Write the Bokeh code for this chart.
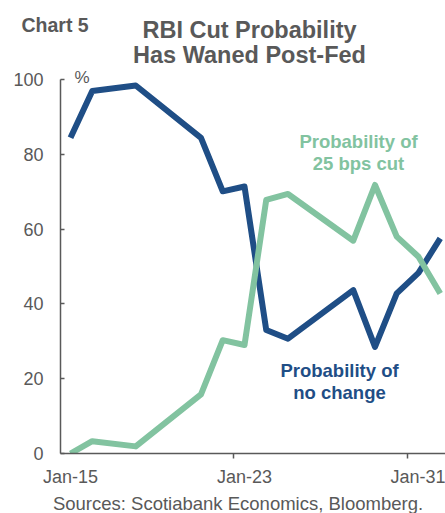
import pandas as pd
from bokeh.plotting import figure
from bokeh.layouts import column
from bokeh.models import Range1d, FixedTicker, Label
from bokeh.embed import file_html
from bokeh.resources import INLINE

# ---- data ----
dates = ["2025-01-15", "2025-01-16", "2025-01-18", "2025-01-21", "2025-01-22",
         "2025-01-23", "2025-01-24", "2025-01-25", "2025-01-28", "2025-01-29",
         "2025-01-30", "2025-01-31", "2025-02-01"]
no_change = [84.4, 96.9, 98.4, 84.4, 70.1, 71.4, 33.0, 30.7, 43.7, 28.5, 42.8, 48.3, 57.5]
cut_25bps = [0.0, 3.3, 1.9, 15.8, 30.3, 29.0, 67.8, 69.4, 56.9, 71.8, 58.0, 52.6, 42.8]
x_tick_dates = ["2025-01-15", "2025-01-23", "2025-01-31"]
x_tick_labels = ["Jan-15", "Jan-23", "Jan-31"]
y_ticks = [0, 20, 40, 60, 80, 100]

d0 = pd.Timestamp(dates[0])
x = [(pd.Timestamp(d) - d0).days for d in dates]
xt = [(pd.Timestamp(d) - d0).days for d in x_tick_dates]

BLUE = "#1F4E86"
GREEN = "#82C3A0"
GREY = "#595959"
FONT = "Liberation Sans"

W, H = 445, 513
TOP_H = 69          # title strip height
BOT_H = 23          # source strip height
FL, FR, FB = 60, 445, 453
Y0_PX, Y100_PX = 453.0, 79.0
PX_PER_UNIT = (Y0_PX - Y100_PX) / 100.0
X0_PX, DAY_PX = 70.0, 21.75
x_start = (FL - X0_PX) / DAY_PX
x_end = (FR - X0_PX) / DAY_PX
y_end = (Y0_PX - TOP_H) / PX_PER_UNIT
SHIFT = 0.36  # baseline correction (fraction of font size)


def strip(h, top_px):
    f = figure(width=W, height=h, output_backend="svg", toolbar_location=None,
               title=None,
               x_range=Range1d(0, W), y_range=Range1d(top_px + h, top_px),
               x_axis_type=None, y_axis_type=None,
               min_border=0, min_border_left=0, min_border_right=0,
               min_border_top=0, min_border_bottom=0)
    f.frame_align = False
    f.outline_line_color = None
    f.xgrid.visible = False
    f.ygrid.visible = False
    return f


def lab(fig, text, x, y, size, color, align="left", bold=False, font=FONT):
    fig.add_layout(Label(x=x, y=y, text=text, text_font=font,
                         text_font_size=f"{size}px", text_color=color, text_align=align,
                         text_baseline="alphabetic",
                         text_font_style="bold" if bold else "normal"))


# ---- title strip (pixel coordinates, y downwards) ----
top = strip(TOP_H, 0)
lab(top, "Chart 5", 21, 31.7 - SHIFT * 19.5, 19.5, GREY, bold=True)
lab(top, "RBI Cut Probability", 249, 38.3 - SHIFT * 23.5, 23.5, GREY, align="center", bold=True)
lab(top, "Has Waned Post-Fed", 249, 63.3 - SHIFT * 23.5, 23.5, GREY, align="center", bold=True)

# ---- main chart ----
MAIN_H = H - TOP_H - BOT_H
p = figure(width=W, height=MAIN_H, output_backend="svg", toolbar_location=None,
           title=None,
           x_range=Range1d(x_start, x_end), y_range=Range1d(0, y_end),
           min_border_left=FL, min_border_right=W - FR,
           min_border_top=0, min_border_bottom=(H - BOT_H) - FB)
p.frame_align = False
p.outline_line_color = None
p.xgrid.visible = False
p.ygrid.visible = False

p.yaxis.ticker = FixedTicker(ticks=y_ticks)
p.yaxis.bounds = (0, 100)
p.yaxis.major_tick_in = 4
p.yaxis.major_tick_out = 0
p.yaxis.minor_tick_line_color = None
p.yaxis.major_label_standoff = 17
p.yaxis.major_label_text_font = FONT
p.yaxis.major_label_text_font_size = "18px"
p.yaxis.major_label_text_color = GREY

minor = [t - 0.5 for t in xt[1:]]
p.xaxis.ticker = FixedTicker(ticks=xt, minor_ticks=minor)
p.xaxis.major_label_overrides = {t: lab_ for t, lab_ in zip(xt, x_tick_labels)}
p.xaxis.major_tick_in = 0
p.xaxis.major_tick_out = 0
p.xaxis.minor_tick_in = 0
p.xaxis.minor_tick_out = 5
p.xaxis.major_label_standoff = 8
p.xaxis.major_label_text_font = FONT
p.xaxis.major_label_text_font_size = "18px"
p.xaxis.major_label_text_color = GREY

for ax in (p.xaxis, p.yaxis):
    ax.axis_line_color = GREY
    ax.axis_line_width = 1.5
    ax.major_tick_line_color = GREY
    ax.major_tick_line_width = 1.5
    ax.minor_tick_line_color = GREY
    ax.minor_tick_line_width = 1.5

p.line(x, no_change, line_color=BLUE, line_width=6, line_join="round")
p.line(x, cut_25bps, line_color=GREEN, line_width=6, line_join="round")


def sx(px):
    return (px - X0_PX) / DAY_PX


def sy(py, size):
    return (Y0_PX - (py - SHIFT * size)) / PX_PER_UNIT


lab(p, "%", sx(74), sy(83.3, 17), 17, GREY)
lab(p, "Probability of", sx(358), sy(147.7, 18.5), 18.5, GREEN, align="center", bold=True)
lab(p, "25 bps cut", sx(358), sy(170, 18.5), 18.5, GREEN, align="center", bold=True)
lab(p, "Probability of", sx(339), sy(376.5, 18.5), 18.5, BLUE, align="center", bold=True)
lab(p, "no change", sx(339), sy(398.5, 18.5), 18.5, BLUE, align="center", bold=True)

# ---- source strip ----
bot = strip(BOT_H, H - BOT_H)
lab(bot, "Sources: Scotiabank Economics, Bloomberg.", 237.5, 509.5 - SHIFT * 18.5, 18.5, GREY, align="center")

layout = column(top, p, bot, spacing=0)
open("out.html", "w").write(file_html(layout, INLINE))
